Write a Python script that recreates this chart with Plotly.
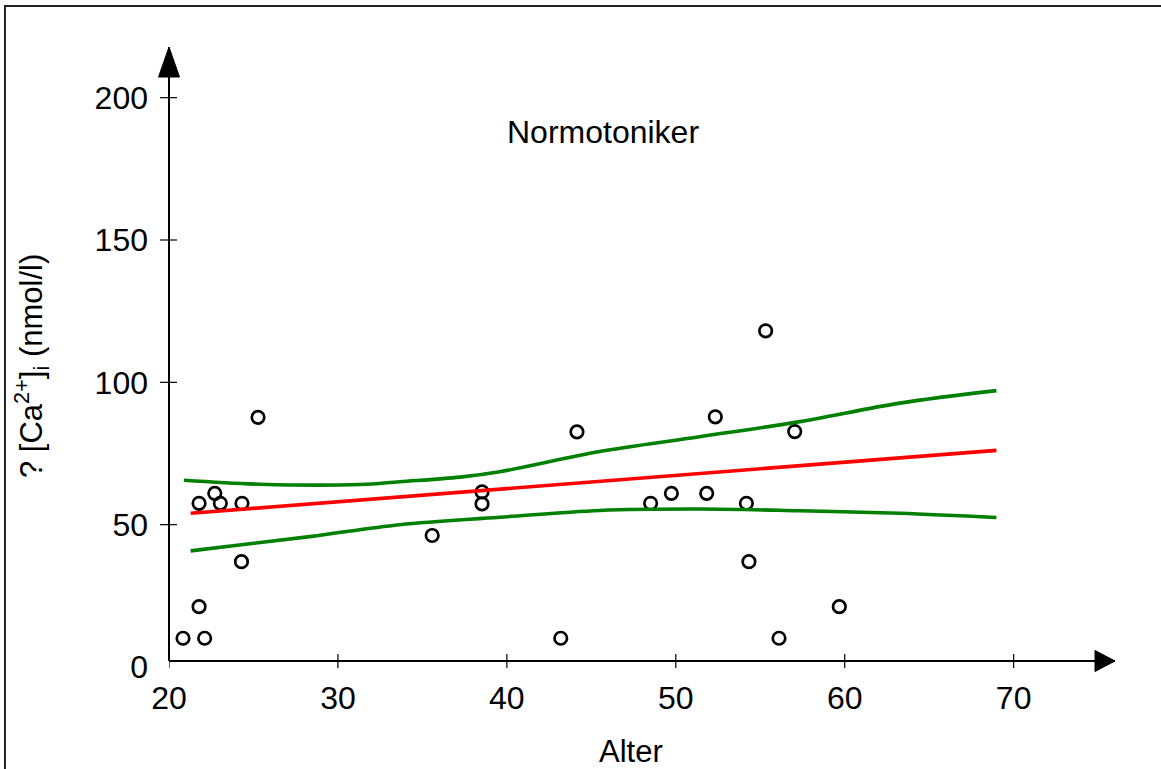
import plotly.graph_objects as go

# ---- data ----
age = [20.83, 21.78, 21.78, 22.11, 22.71, 23.04, 24.29, 24.32, 25.27, 35.58,
       38.53, 38.53, 43.19, 44.15, 48.51, 49.74, 51.83, 52.34, 54.18, 54.33,
       55.32, 56.11, 57.04, 59.68]
ca = [10.1, 21.2, 57.5, 10.1, 61.0, 57.5, 37.0, 57.5, 87.7, 46.2,
      61.5, 57.3, 10.1, 82.6, 57.5, 61.0, 61.0, 87.9, 57.5, 37.0,
      118.1, 10.1, 82.7, 21.2]

reg_x = [21.28, 68.98]
reg_y = [54.0, 76.1]

upper_x = [20.88, 25.38, 31.3, 33.66, 37.22, 39.58, 45.5, 51.42, 57.34, 63.26, 68.98]
upper_y = [65.6, 64.2, 64.1, 65.1, 66.7, 68.6, 75.7, 80.9, 86.2, 92.7, 97.1]

lower_x = [21.28, 28.33, 33.66, 39.58, 45.5, 51.42, 57.34, 63.26, 68.98]
lower_y = [40.8, 45.8, 50.0, 52.6, 55.0, 55.5, 54.9, 54.0, 52.5]

x_ticks = [20, 30, 40, 50, 60, 70]
y_ticks = [0, 50, 100, 150, 200]

title_text = "Normotoniker"
x_title = "Alter"
y_title = "? [Ca<sup>2+</sup>]<sub>i</sub> (nmol/l)"

# ---- layout constants ----
FONT = "Arial, Liberation Sans, sans-serif"
X_RANGE = [20, 76.0]
Y_RANGE = [0, 217.8]
XAXIS_POS = 0.0097  # paper y where the x axis line sits

fig = go.Figure()

fig.add_trace(go.Scatter(
    x=age, y=ca, mode="markers",
    marker=dict(symbol="circle-open", size=12.5, color="black",
                line=dict(width=2.7, color="black")),
    showlegend=False, hoverinfo="skip"))

fig.add_trace(go.Scatter(
    x=upper_x, y=upper_y, mode="lines", line=dict(color="#008000", width=3.6, shape="spline"),
    showlegend=False, hoverinfo="skip"))
fig.add_trace(go.Scatter(
    x=lower_x, y=lower_y, mode="lines", line=dict(color="#008000", width=3.6, shape="spline"),
    showlegend=False, hoverinfo="skip"))
fig.add_trace(go.Scatter(
    x=reg_x, y=reg_y, mode="lines", line=dict(color="#ff0000", width=3.6),
    showlegend=False, hoverinfo="skip"))

shapes = []
# ticks crossing the axes
for t in x_ticks:
    shapes.append(dict(type="line", xref="x", yref="paper", ysizemode="pixel",
                       yanchor=XAXIS_POS, x0=t, x1=t, y0=-7, y1=7,
                       line=dict(color="black", width=1.2)))
for t in y_ticks[1:]:
    shapes.append(dict(type="line", xref="paper", yref="y", xsizemode="pixel",
                       xanchor=0, y0=t, y1=t, x0=-9, x1=8,
                       line=dict(color="black", width=1.2)))
# y axis line
shapes.append(dict(type="line", xref="paper", yref="paper", x0=0, x1=0,
                   y0=XAXIS_POS, y1=1, line=dict(color="black", width=2)))
# arrow heads
shapes.append(dict(type="path", xref="paper", yref="paper",
                   xsizemode="pixel", ysizemode="pixel", xanchor=1, yanchor=XAXIS_POS,
                   path="M0,0 L-20,10.5 L-20,-10.5 Z", fillcolor="black",
                   line=dict(color="black", width=1)))
shapes.append(dict(type="path", xref="paper", yref="paper",
                   xsizemode="pixel", ysizemode="pixel", xanchor=0, yanchor=1,
                   path="M0,0 L-10.5,-30 L10.5,-30 Z", fillcolor="black",
                   line=dict(color="black", width=1)))
# outer frame
shapes.append(dict(type="rect", xref="paper", yref="paper",
                   x0=-0.1734, x1=1.07, y0=-0.21, y1=1.066,
                   line=dict(color="#222222", width=2), fillcolor="rgba(0,0,0,0)"))

annotations = [
    dict(text=title_text, xref="paper", yref="paper", x=0.4588, y=0.8635,
         xanchor="center", yanchor="middle", showarrow=False,
         font=dict(family=FONT, size=32, color="black")),
    dict(text=x_title, xref="paper", yref="paper", x=0.4884, y=-0.1355,
         xanchor="center", yanchor="middle", showarrow=False,
         font=dict(family=FONT, size=31, color="black")),
    dict(text=y_title, xref="paper", yref="paper", x=-0.1448, y=0.4855,
         xanchor="center", yanchor="middle", showarrow=False, textangle=-90,
         font=dict(family=FONT, size=31, color="black")),
]

fig.update_layout(
    width=1161, height=769,
    margin=dict(l=169, r=46, t=47, b=102, pad=0),
    paper_bgcolor="white", plot_bgcolor="white",
    font=dict(family=FONT, color="black"),
    shapes=shapes, annotations=annotations,
    xaxis=dict(range=X_RANGE, anchor="free", position=XAXIS_POS,
               showline=True, linecolor="black", linewidth=2,
               showgrid=False, zeroline=False, ticks="",
               tickvals=x_ticks, ticktext=[str(t) for t in x_ticks],
               tickfont=dict(family=FONT, size=32, color="black"),
               ticklabelstandoff=9, fixedrange=True),
    yaxis=dict(range=Y_RANGE, domain=[0, 1],
               showline=False, showgrid=False, zeroline=False, ticks="",
               tickvals=y_ticks, ticktext=[str(t) for t in y_ticks],
               tickfont=dict(family=FONT, size=32, color="black"),
               ticklabelstandoff=20, fixedrange=True),
)

fig.write_html("out.html", config={"displayModeBar": False},
               post_script="document.body.style.margin='0';document.body.style.padding='0';")
